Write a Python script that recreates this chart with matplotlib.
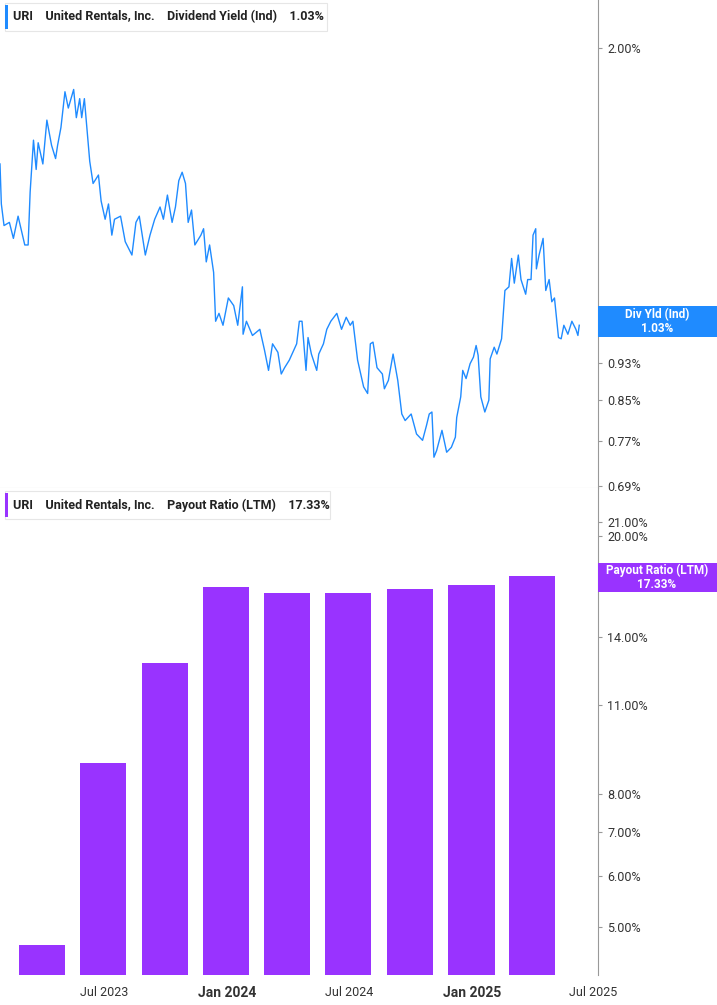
import matplotlib
matplotlib.use("Agg")
import matplotlib.pyplot as plt
from matplotlib.ticker import FixedLocator, NullLocator
import datetime as dt

# Dividend yield: days relative to 2024-01-01, values in %
yield_days = [-339,-337,-333,-325,-319,-312,-302,-297,-294,-289,-285,-282,-275,-269,-262,-256,-253,-248,-242,-237,
 -232,-229,-225,-220,-217,-213,-209,-205,-200,-192,-188,-182,-177,-172,-168,-159,-152,-142,-136,-131,
 -122,-115,-108,-100,-95,-89,-82,-77,-72,-67,-62,-58,-53,-48,-39,-35,-31,-26,-20,-17,
 -12,-6,2,10,16,23,24,29,38,49,56,62,68,76,81,86,93,104,108,112,
 118,121,126,134,137,144,149,155,164,171,178,184,188,195,204,210,214,218,224,232,
 235,241,248,255,261,266,275,283,292,298,302,306,309,313,321,328,335,341,343,349,
 352,357,363,368,372,375,379,385,391,393,399,403,410,415,421,425,429,435,439,446,
 449,454,457,461,462,466,472,476,481,485,489,495,499,503,509,515,521,524,526]
yield_vals = [1.51,1.37,1.30,1.31,1.26,1.33,1.24,1.24,1.41,1.60,1.49,1.59,1.51,1.68,1.58,1.53,1.58,1.65,1.80,1.73,
 1.78,1.81,1.69,1.77,1.69,1.77,1.64,1.52,1.44,1.47,1.38,1.32,1.37,1.27,1.32,1.33,1.25,1.21,1.31,1.33,
 1.21,1.27,1.32,1.36,1.32,1.40,1.31,1.36,1.45,1.48,1.44,1.31,1.35,1.24,1.27,1.29,1.19,1.24,1.16,1.03,
 1.05,1.02,1.09,1.07,1.02,1.12,0.998,1.03,0.995,1.01,0.96,0.914,0.975,0.955,0.906,0.92,0.937,0.975,1.03,1.03,
 0.914,0.99,0.951,0.914,0.951,0.975,1.01,1.03,1.05,1.01,1.04,1.02,1.03,0.937,0.878,0.864,0.975,0.979,0.92,0.906,
 0.874,0.892,0.951,0.892,0.822,0.809,0.822,0.783,0.771,0.80,0.822,0.826,0.74,0.752,0.79,0.749,0.758,0.777,0.815,0.857,
 0.914,0.896,0.929,0.944,0.971,0.948,0.857,0.826,0.85,0.94,0.967,0.951,0.987,1.11,1.12,1.20,1.13,1.21,1.14,1.10,
 1.14,1.14,1.27,1.29,1.17,1.21,1.26,1.11,1.14,1.08,1.09,0.99,0.987,1.02,0.998,1.03,1.01,0.995,1.02]

payout_dates = ["2023-03-31","2023-06-30","2023-09-30","2023-12-31","2024-03-31",
                "2024-06-30","2024-09-30","2024-12-31","2025-03-31"]
payout_vals = [4.69, 8.94, 12.75, 16.70, 16.34, 16.34, 16.58, 16.81, 17.33]

yield_ticks = [0.69, 0.77, 0.85, 0.93, 2.00]
payout_ticks = [5, 6, 7, 8, 11, 14, 20, 21]

BLUE = "#1f8bff"
PURPLE = "#9933ff"
FONT = ["Liberation Sans Narrow", "Roboto", "DejaVu Sans"]
plt.rcParams["font.family"] = FONT

base = dt.datetime(2024, 1, 1)
ydates = [base + dt.timedelta(days=d) for d in yield_days]
pdates = [dt.datetime.strptime(s, "%Y-%m-%d") for s in payout_dates]
xmin = base + dt.timedelta(days=-339)
xmax = base + dt.timedelta(days=554)

fig = plt.figure(figsize=(7.17, 10.05), dpi=100)
W, H = 717, 1005
ax1 = fig.add_axes([0, 1 - 488 / H, 598 / W, 488 / H])
ax2 = fig.add_axes([0, 30 / H, 598 / W, 458 / H * 0 + 458 / H + 29 / H])

for ax in (ax1, ax2):
    ax.yaxis.tick_right()
    for s in ("left", "top"):
        ax.spines[s].set_visible(False)
    ax.spines["right"].set_color("#999999")
    ax.spines["bottom"].set_color("#cccccc")
    ax.set_xlim(xmin, xmax)
    ax.tick_params(axis="y", colors="#999999", labelcolor="#333333", labelsize=9, length=3, direction="out")
    ax.set_yscale("log")
    ax.yaxis.set_minor_locator(NullLocator())

ax1.plot(ydates, yield_vals, color=BLUE, lw=1.0)
ax1.set_ylim(0.6866, 2.25)
ax1.yaxis.set_major_locator(FixedLocator(yield_ticks))
ax1.set_yticklabels([f"{t:.2f}%" for t in yield_ticks])
ax1.set_xticks([])

ax2.bar(pdates, payout_vals, width=69, color=PURPLE, align="center")
ax2.set_ylim(4.22, 23.7)
ax2.yaxis.set_major_locator(FixedLocator(payout_ticks))
ax2.set_yticklabels([f"{t:.2f}%" for t in payout_ticks])
ax2.spines["bottom"].set_visible(False)
xt = [dt.datetime(2023, 7, 1), dt.datetime(2024, 1, 1), dt.datetime(2024, 7, 1), dt.datetime(2025, 1, 1), dt.datetime(2025, 7, 1)]
ax2.set_xticks(xt)
ax2.set_xticklabels(["Jul 2023", "Jan 2024", "Jul 2024", "Jan 2025", "Jul 2025"])
ax2.tick_params(axis="x", length=0, labelsize=9, labelcolor="#333333", pad=8)
for lab in ax2.get_xticklabels():
    if lab.get_text().startswith("Jan"):
        lab.set_fontweight("bold")
        lab.set_fontsize(10)

def header(y, color, label, w):
    fig.patches.append(plt.Rectangle((5 / W, 1 - (y + 14) / H), w / W, 28 / H, transform=fig.transFigure,
                                     facecolor="white", edgecolor="#e6e6e6", lw=0.8, zorder=5))
    fig.patches.append(plt.Rectangle((5 / W, 1 - (y + 12) / H), 3 / W, 24 / H, transform=fig.transFigure,
                                     facecolor=color, edgecolor="none", zorder=6))
    fig.text(13 / W, 1 - y / H, label, fontsize=9, fontweight="bold", color="#222222", va="center", zorder=7)

header(17, BLUE, "URI    United Rentals, Inc.    Dividend Yield (Ind)    1.03%", 322)
header(505, PURPLE, "URI    United Rentals, Inc.    Payout Ratio (LTM)    17.33%", 325)

def side(y0, y1, color, txt):
    fig.patches.append(plt.Rectangle((598 / W, 1 - y1 / H), 119 / W, (y1 - y0) / H, transform=fig.transFigure,
                                     facecolor=color, edgecolor="none", zorder=5))
    fig.text(657 / W, 1 - (y0 + y1) / 2 / H, txt, fontsize=8.5, fontweight="bold", color="white",
             ha="center", va="center", zorder=6, linespacing=1.1)

side(306, 337, BLUE, "Div Yld (Ind)\n1.03%")
side(563, 592, PURPLE, "Payout Ratio (LTM)\n17.33%")

fig.savefig("out.png", dpi=100, facecolor="white")
